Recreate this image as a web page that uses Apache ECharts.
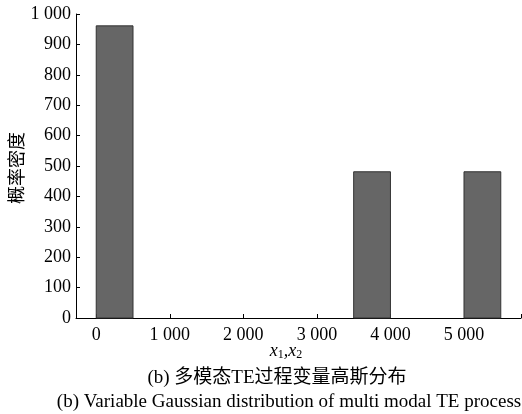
<!DOCTYPE html>
<html><head><meta charset="utf-8">
<script src="https://cdn.jsdelivr.net/npm/echarts@6/dist/echarts.min.js"></script>
<style>html,body{margin:0;padding:0;background:#fff}#c{width:522px;height:414px}</style>
</head><body><div id="c"></div>
<script>
const binStart = [0, 3500, 5000];
const binEnd = [500, 4000, 5500];
const density = [961, 481, 481];
const xTicks = [0, 1000, 2000, 3000, 4000, 5000];
const yTicks = [0, 100, 200, 300, 400, 500, 600, 700, 800, 900, 1000];
const yTitle = '概率密度';
const caption1 = '(b) 多模态TE过程变量高斯分布';
const caption2 = '(b) Variable Gaussian distribution of multi modal TE process';

const serif = '"Liberation Serif", "Noto Sans CJK SC", serif';
const fmt = v => { const s = String(Math.round(v)); return s.length > 3 ? s.slice(0, s.length - 3) + ' ' + s.slice(-3) : s; };

const chart = echarts.init(document.getElementById('c'));
chart.setOption({
  animation: false,
  grid: { left: 76, right: 1, top: 14, bottom: 96, containLabel: false },
  xAxis: {
    type: 'value', min: -275, max: 5775,
    axisLine: { onZero: false, lineStyle: { color: '#000', width: 1 } },
    axisTick: { inside: true, length: 4, lineStyle: { color: '#000' }, customValues: xTicks.concat([5775]) },
    axisLabel: { customValues: xTicks, formatter: fmt, color: '#000', fontFamily: serif, fontSize: 18, margin: 8 },
    splitLine: { show: false }
  },
  yAxis: {
    type: 'value', min: 0, max: 1000,
    axisLine: { show: true, onZero: false, lineStyle: { color: '#000', width: 1 } },
    axisTick: { show: true, inside: true, length: 4, lineStyle: { color: '#000' }, customValues: yTicks },
    axisLabel: { customValues: yTicks, formatter: fmt, color: '#000', fontFamily: serif, fontSize: 18, margin: 5 },
    splitLine: { show: false }
  },
  graphic: [
    { type: 'text', x: 18, y: 168, rotation: Math.PI / 2,
      style: { text: yTitle, font: '18px ' + serif, fill: '#000', textAlign: 'center', textVerticalAlign: 'middle' } },
    { type: 'text', x: 286, y: 351,
      style: { text: '{i|x}{s|1}{i|,}{i|x}{s|2}', textAlign: 'center', textVerticalAlign: 'middle',
        rich: { i: { font: 'italic 18px ' + serif, fill: '#000' }, s: { font: '12px ' + serif, fill: '#000', padding: [8, 0, 0, 0] } } } },
    { type: 'text', x: 277, y: 378,
      style: { text: caption1, font: '19px ' + serif, fill: '#000', textAlign: 'center', textVerticalAlign: 'middle' } },
    { type: 'text', x: 289, y: 402,
      style: { text: caption2, font: '19px ' + serif, fill: '#000', textAlign: 'center', textVerticalAlign: 'middle' } }
  ],
  series: [{
    type: 'custom',
    data: binStart.map((s, i) => [s, binEnd[i], density[i]]),
    renderItem: function (params, api) {
      const p1 = api.coord([api.value(0), api.value(2)]);
      const p2 = api.coord([api.value(1), 0]);
      return { type: 'rect', shape: { x: p1[0], y: p1[1], width: p2[0] - p1[0], height: p2[1] - p1[1] },
        style: { fill: '#666666', stroke: '#333333', lineWidth: 1 } };
    }
  }]
});
</script></body></html>
